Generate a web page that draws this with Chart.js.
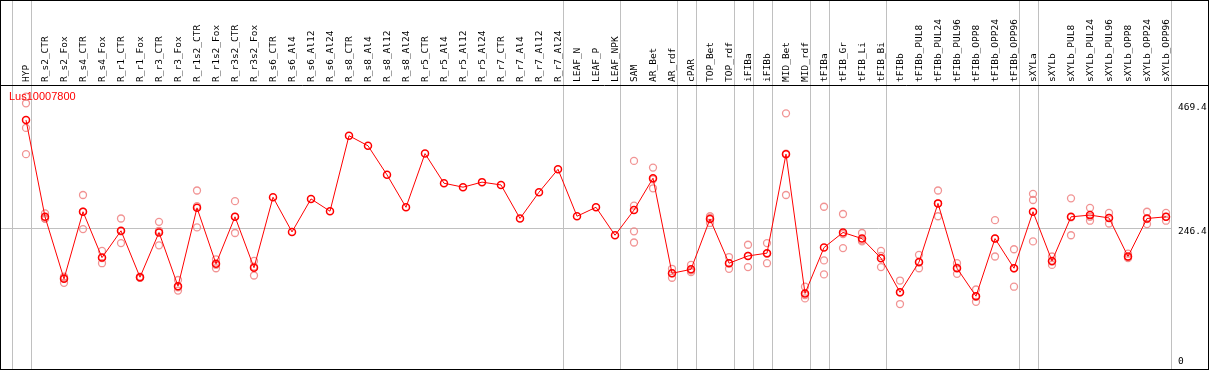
<!DOCTYPE html>
<html>
<head>
<meta charset="utf-8">
<script src="https://cdn.jsdelivr.net/npm/chart.js@4.4.1/dist/chart.umd.min.js"></script>
<style>
  html, body { margin: 0; padding: 0; background: #fff; }
</style>
</head>
<body>
<canvas id="exprChart" width="1209" height="370"></canvas>
<script>
const title = 'Lus10007800';

const categories = [
  'HYP',
  'R_s2_CTR', 'R_s2_Fox', 'R_s4_CTR', 'R_s4_Fox', 'R_r1_CTR', 'R_r1_Fox', 'R_r3_CTR', 'R_r3_Fox',
  'R_r1s2_CTR', 'R_r1s2_Fox', 'R_r3s2_CTR', 'R_r3s2_Fox',
  'R_s6_CTR', 'R_s6_Al4', 'R_s6_Al12', 'R_s6_Al24',
  'R_s8_CTR', 'R_s8_Al4', 'R_s8_Al12', 'R_s8_Al24',
  'R_r5_CTR', 'R_r5_Al4', 'R_r5_Al12', 'R_r5_Al24',
  'R_r7_CTR', 'R_r7_Al4', 'R_r7_Al12', 'R_r7_Al24',
  'LEAF_N', 'LEAF_P', 'LEAF_NPK',
  'SAM', 'AR_Bet', 'AR_rdf', 'cPAR', 'TOP_Bet', 'TOP_rdf', 'iFIBa', 'iFIBb', 'MID_Bet', 'MID_rdf',
  'tFIBa', 'tFIB_Gr', 'tFIB_Li', 'tFIB_Bi',
  'tFIBb', 'tFIBb_PUL8', 'tFIBb_PUL24', 'tFIBb_PUL96', 'tFIBb_OPP8', 'tFIBb_OPP24', 'tFIBb_OPP96',
  'sXYLa',
  'sXYLb', 'sXYLb_PUL8', 'sXYLb_PUL24', 'sXYLb_PUL96', 'sXYLb_OPP8', 'sXYLb_OPP24', 'sXYLb_OPP96'
];

// mean expression per sample
const means = [
  440,
  267, 156, 276, 194, 242, 159, 239, 143,
  283, 183, 267, 176,
  302, 240, 299, 277,
  412, 394, 342, 284,
  380, 327, 320, 329,
  324, 264, 311, 352,
  268, 284, 234,
  279, 336, 166, 173, 263, 184, 197, 202, 379, 130,
  212, 239, 228, 193,
  132, 186, 291, 175, 125, 228, 175,
  276,
  188, 267, 270, 265, 196, 264, 267
];

// individual replicates (empty = hidden behind the mean)
const replicates = [
  [482, 470, 426, 379],
  [273, 264, 264], [160, 149, 158], [306, 245, 276], [206, 184, 193],
  [264, 220, 241], [160, 158, 158], [258, 216, 242], [154, 135, 141],
  [314, 248, 286], [191, 175, 181], [295, 238, 267], [188, 162, 178],
  [], [], [], [],
  [], [], [], [],
  [], [], [], [],
  [], [], [], [],
  [], [], [],
  [367, 287, 241, 221], [355, 318, 334], [174, 158, 166], [181, 168, 171],
  [268, 256, 265], [195, 174, 184], [217, 177, 197], [220, 184, 201],
  [452, 306, 380], [142, 121, 127],
  [285, 189, 164], [272, 211, 236], [238, 223, 225], [206, 177, 197],
  [153, 111, 132], [199, 175, 185], [314, 268, 291], [184, 165, 176],
  [137, 115, 124], [261, 196, 228], [209, 142, 175],
  [308, 297, 223],
  [196, 181, 187], [300, 234, 266], [283, 260, 267], [274, 255, 265],
  [201, 193, 195], [276, 254, 263], [274, 260, 267]
];

const yTicks = [0, 246.4, 469.4];
// index of last sample in each group (vertical separators)
const groupEnds = [-1, 0, 28, 31, 34, 35, 37, 38, 39, 41, 42, 45, 52, 53, 60];

const monoFont = 'DejaVu Sans Mono';

const framePlugin = {
  id: 'frame',
  beforeDatasetsDraw(chart) {
    const { ctx } = chart;
    const xs = chart.scales.x;
    ctx.save();
    ctx.strokeStyle = '#c0c0c0';
    ctx.lineWidth = 1;
    groupEnds.forEach(g => {
      const px = Math.round(xs.getPixelForValue(g + 0.24)) + 0.5;
      ctx.beginPath();
      ctx.moveTo(px, 0);
      ctx.lineTo(px, chart.height);
      ctx.stroke();
    });
    ctx.restore();
  },
  afterDraw(chart) {
    const { ctx, chartArea } = chart;
    const ys = chart.scales.y;
    ctx.save();
    // outer frame and header rule
    ctx.strokeStyle = '#000';
    ctx.lineWidth = 1;
    ctx.strokeRect(0.5, 0.5, chart.width - 1, chart.height - 1);
    ctx.beginPath();
    ctx.moveTo(0, 85.5);
    ctx.lineTo(chart.width, 85.5);
    ctx.stroke();
    // y tick labels, drawn inside on the right
    ctx.fillStyle = '#000';
    ctx.font = '9.5px "' + monoFont + '"';
    ctx.textAlign = 'left';
    ctx.textBaseline = 'middle';
    yTicks.forEach(v => {
      const py = Math.min(ys.getPixelForValue(v) + 3.5, chartArea.bottom - 7);
      ctx.fillText(String(v), chartArea.right + 7, py);
    });
    // gene name
    ctx.fillStyle = '#ff0000';
    ctx.font = '11px "Liberation Sans", Arial, sans-serif';
    ctx.textBaseline = 'middle';
    ctx.fillText(title, 9, 97);
    ctx.restore();
  }
};

const meanPoints = means.map((v, i) => ({ x: i, y: v }));
const repPoints = replicates.flatMap((r, i) => r.map(v => ({ x: i, y: v })));

new Chart(document.getElementById('exprChart'), {
  type: 'line',
  data: {
    datasets: [{
      label: 'mean',
      data: meanPoints,
      borderColor: '#ff0000',
      borderWidth: 1,
      pointRadius: 3.5,
      pointBorderWidth: 1.5,
      pointBorderColor: '#ff0000',
      pointBackgroundColor: 'rgba(0,0,0,0)',
      tension: 0
    }, {
      label: 'replicates',
      data: repPoints,
      showLine: false,
      pointRadius: 3.5,
      pointBorderWidth: 1.3,
      pointBorderColor: 'rgba(238,128,128,0.85)',
      pointBackgroundColor: 'rgba(0,0,0,0)'
    }]
  },
  options: {
    responsive: false,
    devicePixelRatio: 1,
    animation: false,
    layout: { autoPadding: false, padding: { left: 1, right: 1, top: 1, bottom: 1 } },
    plugins: {
      legend: { display: false },
      tooltip: { enabled: false }
    },
    scales: {
      x: {
        type: 'linear',
        position: 'top',
        min: -1.316,
        max: 60.263,
        afterBuildTicks: s => { s.ticks = categories.map((_, i) => ({ value: i })); },
        afterFit: s => { s.height = 84; s.paddingLeft = 0; s.paddingRight = 0; },
        grid: { display: false, drawTicks: false },
        border: { display: false },
        ticks: {
          autoSkip: false,
          minRotation: 90,
          maxRotation: 90,
          padding: 3,
          labelOffset: 12,
          color: '#000',
          font: { family: monoFont, size: 9.5 },
          callback: v => categories[v] ?? ''
        }
      },
      y: {
        position: 'right',
        min: -5.19,
        max: 502.7,
        afterBuildTicks: s => { s.ticks = yTicks.map(v => ({ value: v })); },
        afterFit: s => { s.width = 37; s.paddingTop = 0; s.paddingBottom = 0; },
        border: { display: false },
        grid: {
          drawTicks: false,
          color: c => (c.tick && c.tick.value === 246.4) ? '#c0c0c0' : 'rgba(0,0,0,0)'
        },
        ticks: { display: false }
      }
    }
  },
  plugins: [framePlugin]
});
</script>
</body>
</html>
